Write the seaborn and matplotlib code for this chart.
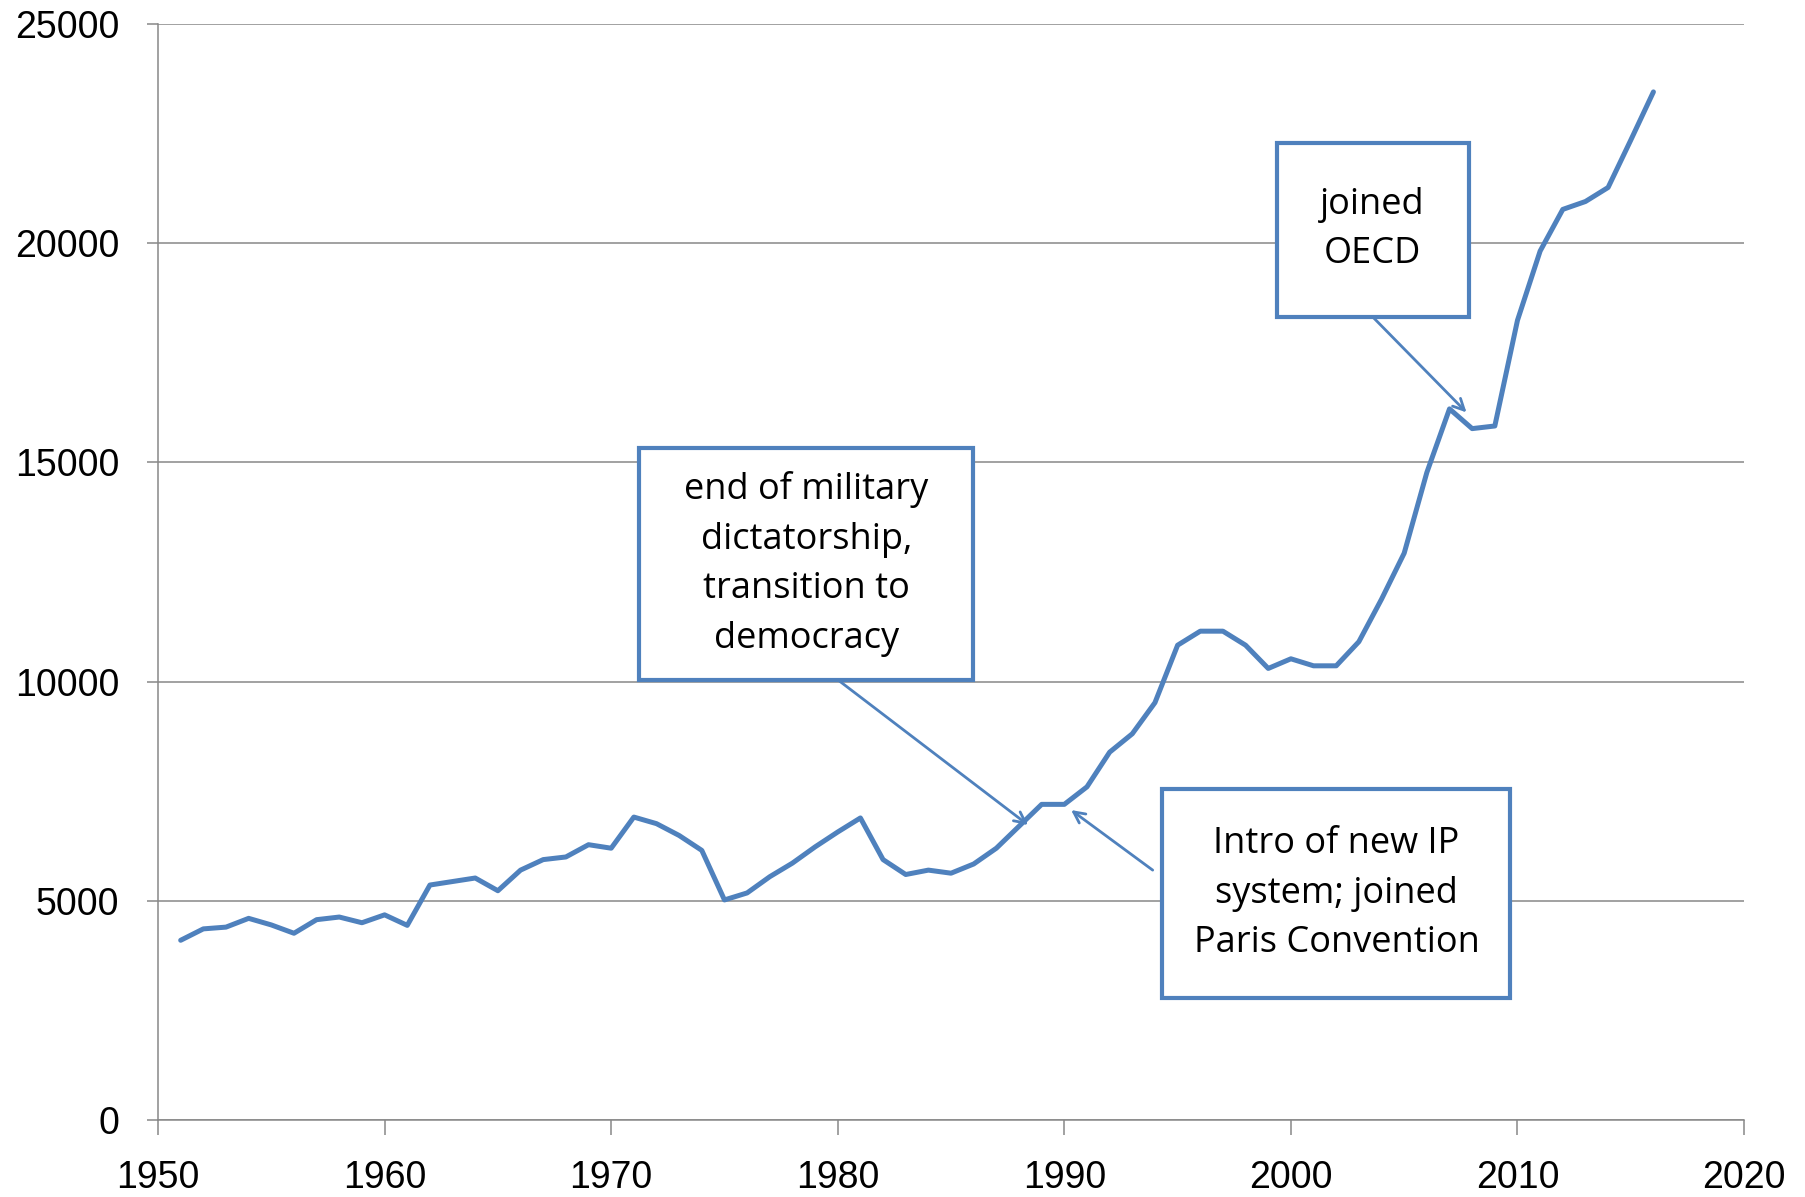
import numpy as np
import pandas as pd
import matplotlib
matplotlib.use("Agg")
import matplotlib.pyplot as plt
import seaborn as sns
from matplotlib.patches import Rectangle

years = list(range(1951, 2017))
values = [4100, 4360, 4400, 4600, 4450, 4260, 4570, 4630, 4500, 4680,
          4440, 5360, 5440, 5520, 5230, 5700, 5940, 6000, 6280, 6200,
          6910, 6760, 6490, 6150, 5020, 5180, 5550, 5860, 6230, 6570,
          6890, 5940, 5600, 5700, 5630, 5840, 6200, 6700, 7200, 7200,
          7600, 8390, 8810, 9520, 10830, 11150, 11150, 10830, 10300, 10520,
          10360, 10360, 10910, 11880, 12930, 14770, 16220, 15770, 15830, 18240,
          19820, 20770, 20950, 21270, 22350, 23450]

x_ticks = [1950, 1960, 1970, 1980, 1990, 2000, 2010, 2020]
y_ticks = [0, 5000, 10000, 15000, 20000, 25000]

notes = ["joined\nOECD",
         "end of military\ndictatorship,\ntransition to\ndemocracy",
         "Intro of new IP\nsystem; joined\nParis Convention"]

df = pd.DataFrame({"year": years, "value": values})

sns.set_style("white")
plt.rcParams['font.family'] = ['Liberation Sans', 'DejaVu Sans']

blue = "#4F81BD"
grey = "#888888"

fig = plt.figure(figsize=(18.06, 11.97), dpi=100)
ax = fig.add_axes([0.0875, 0.0643, 0.8782, 0.9157])

sns.lineplot(data=df, x="year", y="value", ax=ax, color=blue, linewidth=3.6)
ax.lines[0].set_solid_joinstyle("round")
ax.lines[0].set_solid_capstyle("round")

ax.set_xlim(1950, 2020)
ax.set_ylim(0, 25000)
ax.set_xticks(x_ticks)
ax.set_yticks(y_ticks)
ax.set_xlabel("")
ax.set_ylabel("")
ax.yaxis.grid(True, color=grey, linewidth=1.1)
ax.set_axisbelow(True)
for s in ["top", "right"]:
    ax.spines[s].set_visible(False)
for s in ["left", "bottom"]:
    ax.spines[s].set_color(grey)
    ax.spines[s].set_linewidth(1.1)
ax.tick_params(axis="x", direction="out", length=11, width=1.1, color=grey,
               labelsize=27, pad=18, labelcolor="black")
ax.tick_params(axis="y", direction="out", length=8, width=1.1, color=grey,
               labelsize=27, pad=20, labelcolor="black")
ax.tick_params(bottom=True, left=True)

# annotation boxes (data coords)
boxes = [(1999.37, 18323, 8.48, 3969),
         (1971.25, 10042, 14.74, 5284),
         (1994.33, 2787, 15.36, 4758)]
for (bx, by, bw, bh), txt in zip(boxes, notes):
    ax.add_patch(Rectangle((bx, by), bw, bh, fill=True, facecolor="white",
                           edgecolor=blue, linewidth=3, zorder=5))
    ax.text(bx + bw / 2, by + bh / 2, txt, ha="center", va="center",
            fontsize=26, linespacing=1.5, color="black", zorder=6,
            family=["Open Sans", "DejaVu Sans"])

arrows = [((2007.75, 16140), (2003.6, 18323)),
          ((1988.4, 6730), (1980.0, 10042)),
          ((1990.3, 7070), (1993.9, 5700))]
for tip, tail in arrows:
    ax.annotate("", xy=tip, xytext=tail,
                arrowprops=dict(arrowstyle="->,head_length=0.8,head_width=0.4",
                                color=blue, linewidth=2, shrinkA=0, shrinkB=0),
                zorder=7)

fig.savefig("out.png", dpi=100)
